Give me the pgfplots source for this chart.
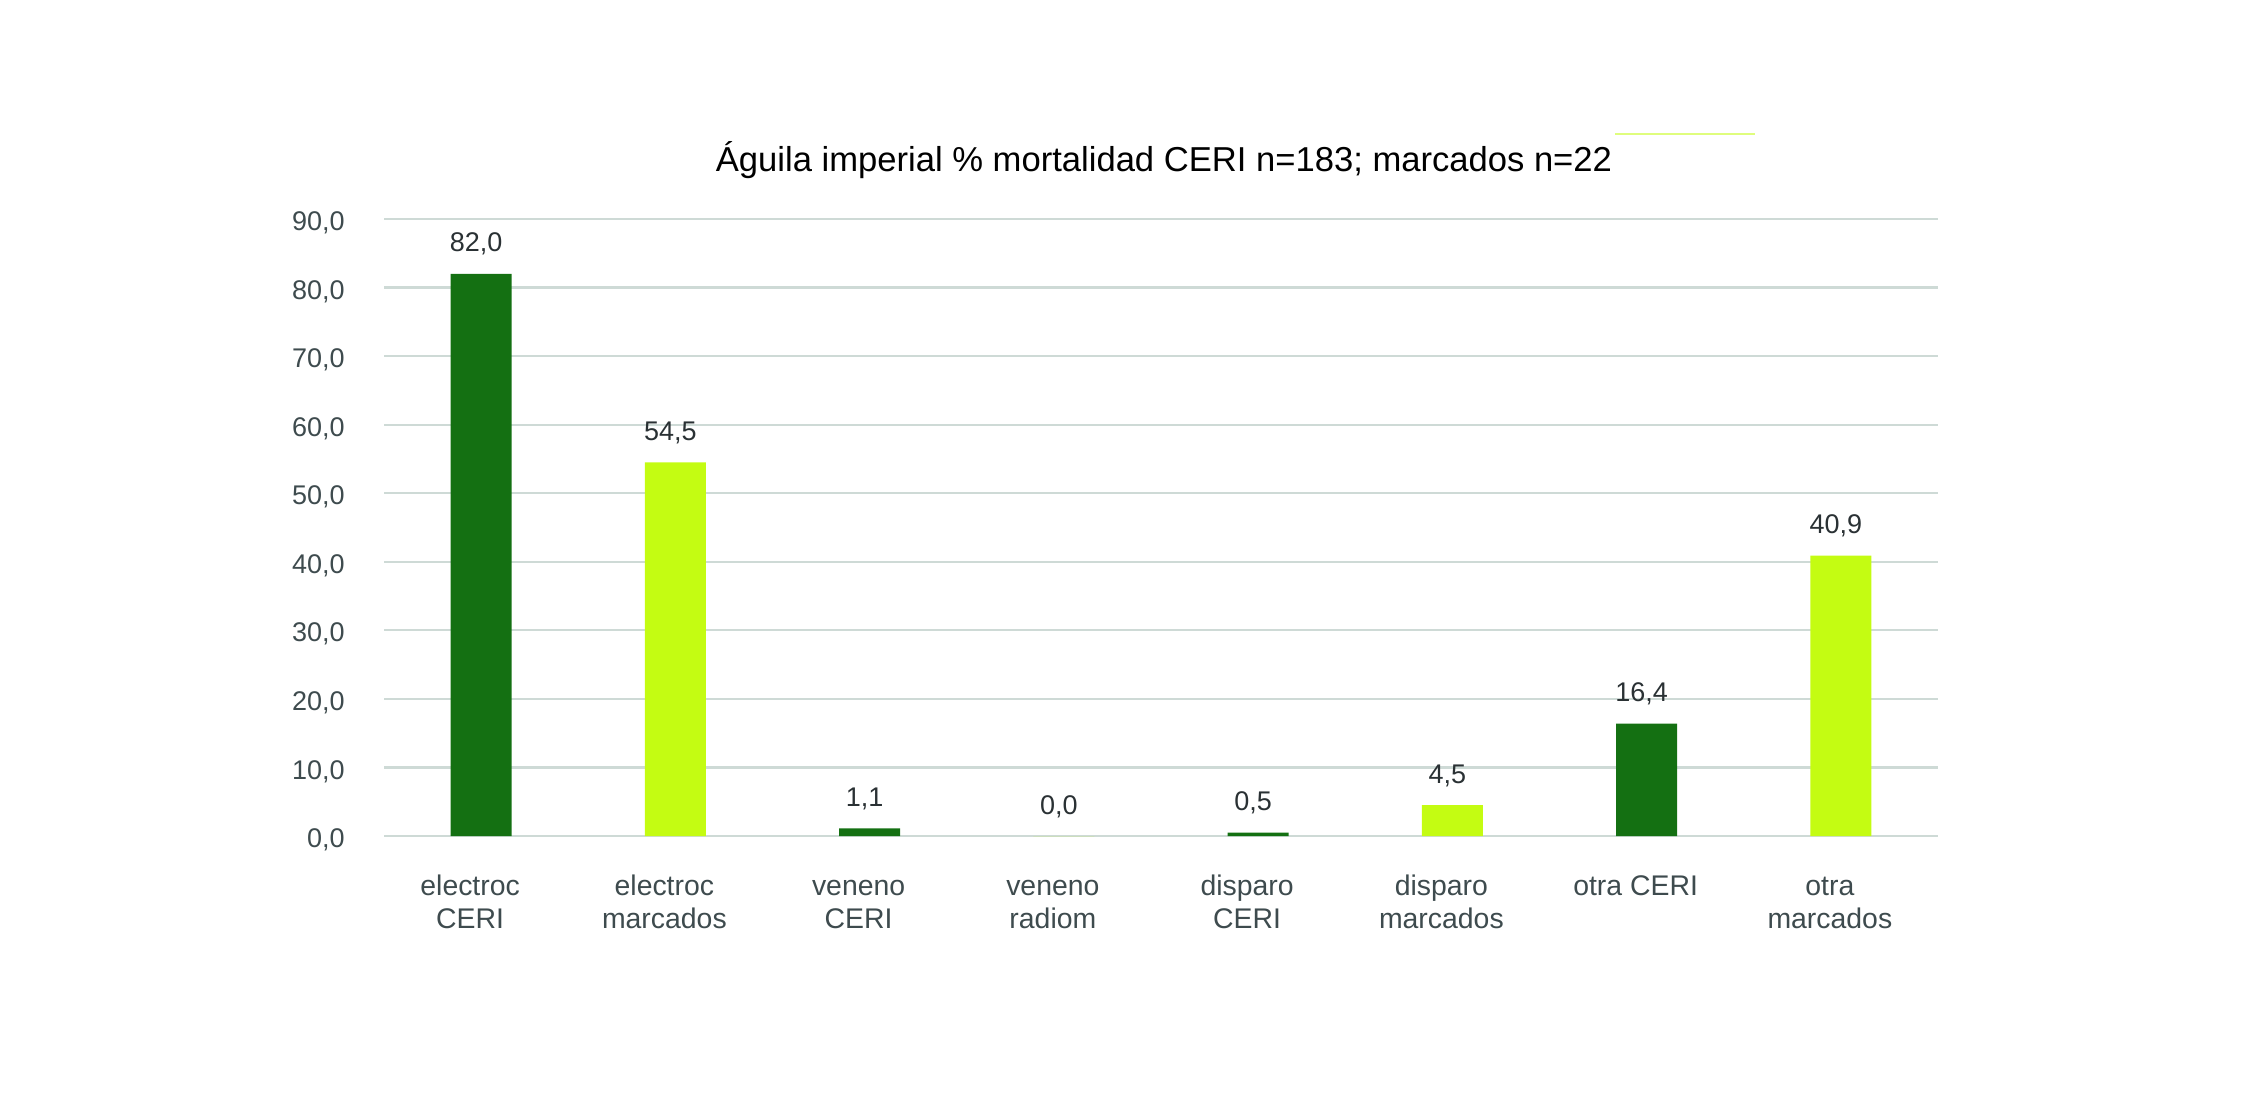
\documentclass[border=0pt]{standalone}
\usepackage{fontspec}
\setmainfont{Liberation Sans}
\usepackage{pgfplots}
\pgfplotsset{compat=1.18}

\definecolor{verdeo}{RGB}{20,112,18}
\definecolor{lima}{RGB}{196,252,18}
\definecolor{rejilla}{RGB}{206,218,214}
\definecolor{gristick}{RGB}{62,75,78}
\definecolor{grisdato}{RGB}{42,49,52}

\pgfplotstableread{
x   v
0.5 82.0
2.5 1.1
4.5 0.5
6.5 16.4
}\ceri
\pgfplotstableread{
x   v
1.5 54.5
3.5 0.0
5.5 4.5
7.5 40.9
}\marcados

\begin{document}
\begin{tikzpicture}
\path[use as bounding box] (0,0) rectangle (1131.5pt,554.5pt);
\begin{axis}[
    at={(192pt,136.5pt)}, anchor=south west,
    scale only axis,
    width=777pt, height=308.5pt,
    xmin=0, xmax=8, ymin=0, ymax=90,
    enlargelimits=false,
    clip=false,
    ybar, bar shift=0pt, bar width=0.314,
    axis line style={draw=none},
    major tick length=0pt,
    ytick={0,10,...,90},
    ymajorgrids,
    grid style={color=rejilla, line width=1.1pt},
    xtick={0.5,1.5,2.5,3.5,4.5,5.5,6.5,7.5},
    xticklabels={{\strut electroc\\CERI},{\strut electroc\\marcados},{\strut veneno\\CERI},
                 {\strut veneno\\radiom},{\strut disparo\\CERI},{\strut disparo\\marcados},
                 {\strut otra CERI},{\strut otra\\marcados}},
    xticklabel style={align=center, anchor=north, inner sep=0pt,
        xshift=-5.5pt, yshift=-17.9pt,
        text=gristick, font=\fontsize{14.2}{16.5}\selectfont},
    yticklabel style={anchor=base east, inner sep=0pt, xshift=-19.5pt, yshift=-5.8pt,
        text=gristick, font=\fontsize{13.5}{16}\selectfont,
        /pgf/number format/.cd, fixed, fixed zerofill, precision=1, use comma,
        assume math mode=true},
    scaled y ticks=false,
    title={Águila imperial \% mortalidad CERI n=183; marcados n=22},
    title style={at={(0.5,1)}, anchor=base, yshift=18pt, inner sep=0pt,
        xshift=1.5pt,
        font=\fontsize{17.3}{20}\selectfont, text=black},
    nodes near coords,
    every node near coord/.append style={anchor=base, xshift=-2.5pt, yshift=11pt, inner sep=0pt,
        text=grisdato, font=\fontsize{13.5}{16}\selectfont,
        /pgf/number format/.cd, fixed, fixed zerofill, precision=1, use comma,
        assume math mode=true},
]
\addplot[fill=verdeo, draw=none] table[x=x, y=v] {\ceri};
\addplot[fill=lima, draw=none] table[x=x, y=v] {\marcados};
\end{axis}
\draw[lima!55, line width=1pt] (807.5pt,487.5pt) -- (877.5pt,487.5pt);
\end{tikzpicture}
\end{document}
